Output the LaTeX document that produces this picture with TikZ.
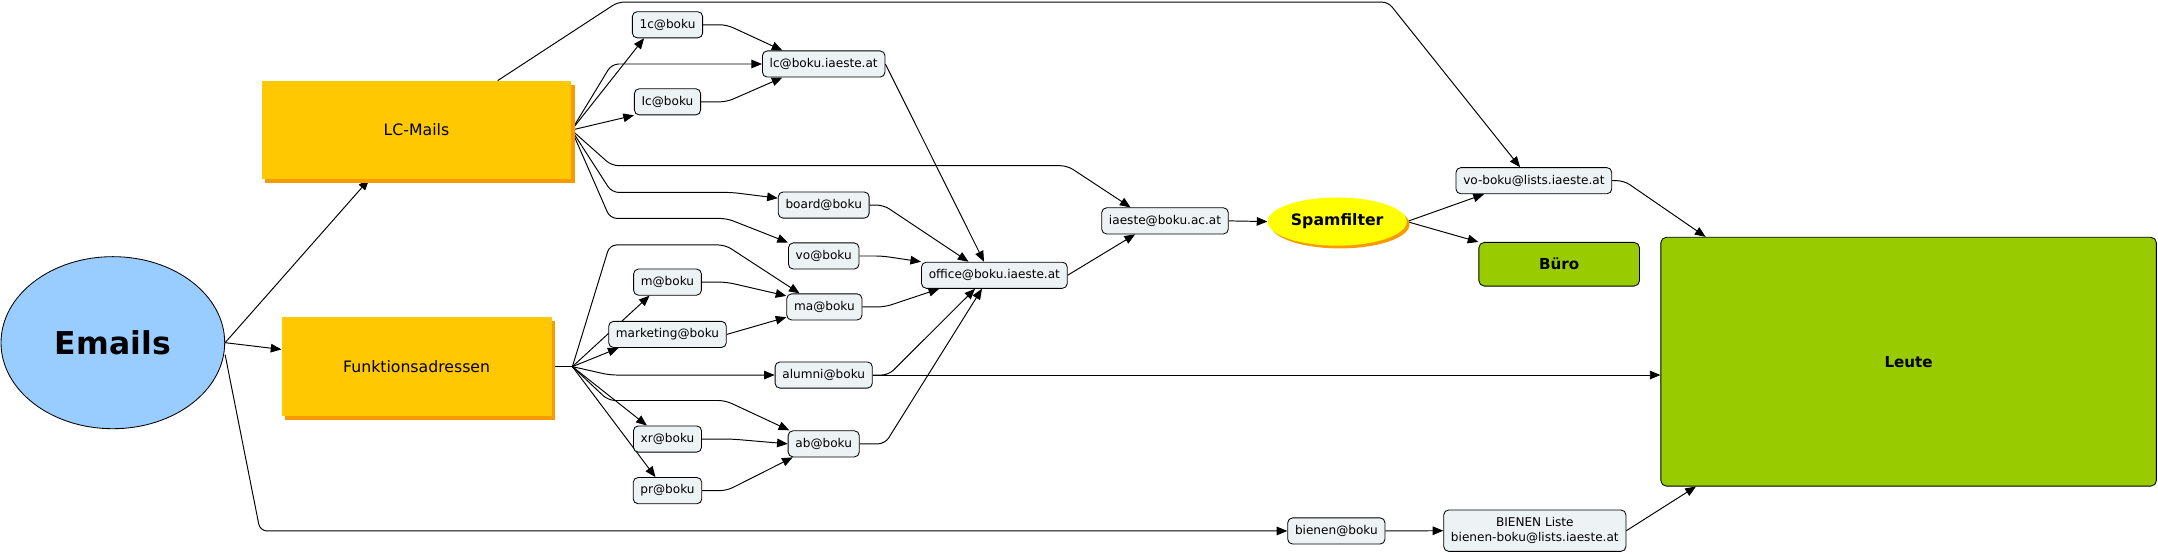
\documentclass[tikz,border=0pt]{standalone}
\usepackage{fontspec}
\setmainfont{DejaVu Sans}
\usepackage{tikz}
\usetikzlibrary{arrows.meta,positioning,shapes.geometric,shadows,backgrounds}
\definecolor{mailblue}{RGB}{153,204,255}
\definecolor{mailorange}{RGB}{255,200,0}
\definecolor{mailshade}{RGB}{247,155,0}
\definecolor{mailgreen}{RGB}{153,204,0}
\definecolor{mailgray}{RGB}{237,242,245}
\definecolor{spamyellow}{RGB}{255,255,0}

\begin{document}
\begin{tikzpicture}[x=0.04cm, y=-0.04cm,
    addr/.style={draw, rounded corners=0.14cm, fill=mailgray, line width=0.7pt,
                 minimum height=0.76cm, inner xsep=6pt, inner ysep=0pt,
                 font=\fontsize{10}{12}\selectfont},
    mailgroup/.style={rectangle, fill=mailorange, minimum height=2.86cm,
                 font=\fontsize{13}{15}\selectfont,
                 general shadow={fill=mailshade, shadow xshift=0.11cm, shadow yshift=-0.11cm}},
    inbox/.style={draw, rounded corners=0.16cm, fill=mailgreen, line width=0.7pt,
                 font=\fontsize{12.5}{15}\selectfont\bfseries},
    arrow/.style={-{Triangle[length=0.31cm, width=0.25cm]}, line width=0.8pt, rounded corners=0.2cm},
    link/.style={line width=0.8pt},
]
    \useasboundingbox (0,0) rectangle (1568,403);

    \node[ellipse, draw, fill=mailblue, line width=0.7pt, minimum width=6.5cm, minimum height=5cm,
          font=\fontsize{26}{30}\selectfont\bfseries] (emails) at (82,249) {Emails};
    \node[mailgroup, minimum width=9cm] (lcm) at (302.6,94.5) {LC-Mails};
    \node[mailgroup, minimum width=7.84cm] (fun) at (302.7,266.4) {Funktionsadressen};

    \node[addr] (c1) at (485,18) {1c@boku};
    \node[addr] (lcb) at (598.5,46.5) {lc@boku.iaeste.at};
    \node[addr] (ic) at (485,74) {Ic@boku};
    \node[addr] (board) at (598.5,149) {board@boku};
    \node[addr] (vo) at (598.5,186) {vo@boku};
    \node[addr] (office) at (722.5,200) {office@boku.iaeste.at};
    \node[addr] (m) at (485,205) {m@boku};
    \node[addr] (ma) at (599,223) {ma@boku};
    \node[addr] (mkt) at (485,243) {marketing@boku};
    \node[addr] (alumni) at (598.5,272.5) {alumni@boku};
    \node[addr] (xr) at (485,319) {xr@boku};
    \node[addr] (ab) at (598.5,322.5) {ab@boku};
    \node[addr] (pr) at (485,356.5) {pr@boku};
    \node[addr] (iaeste) at (846.5,160.5) {iaeste@boku.ac.at};
    \node[addr] (voboku) at (1114.5,131.3) {vo-boku@lists.iaeste.at};
    \node[addr] (bienen) at (971,385.8) {bienen@boku};
    \node[addr, align=center, minimum height=1.2cm, font=\fontsize{10}{12.4}\selectfont]
        (bienenl) at (1115.2,385.6) {BIENEN Liste\\bienen-boku@lists.iaeste.at};

    \node[ellipse, fill=spamyellow, minimum width=4.04cm, minimum height=1.4cm, inner sep=0pt,
          font=\fontsize{13}{15}\selectfont\bfseries,
          general shadow={fill=mailshade, shadow xshift=0.08cm, shadow yshift=-0.08cm}]
        (spam) at (971.6,161) {Spamfilter};
    \node[inbox, minimum width=4.67cm, minimum height=1.27cm] (buero) at (1132.9,192) {Büro};
    \node[inbox, minimum width=14.4cm, minimum height=7.23cm] (leute) at (1386.8,262.8) {Leute};

    \coordinate (fhub) at ([xshift=0.6cm]fun.east);

    \begin{scope}[on background layer]
    % from Emails
    \draw[arrow] (emails.east) -- ([xshift=-1.38cm]lcm.south);
    \draw[arrow] (emails.east) -- ([yshift=0.5cm]fun.west);
    \draw[arrow] ([yshift=-0.35cm]emails.east) -- (189,385.8) -- (bienen.west);

    % LC-Mails
    \draw[arrow, rounded corners=0.18cm] ([xshift=2.36cm]lcm.north) -- (449,1.5) -- (1008.6,1.5)
        -- ([xshift=-0.4cm]voboku.north);
    \draw[arrow] (lcm.east) -- ([xshift=-0.68cm]c1.south);
    \draw[arrow] (lcm.east) -- (444.5,46.5) -- (lcb.west);
    \draw[arrow] (lcm.east) -- (ic.south west);
    \draw[arrow] (lcm.east) -- (444.5,120.4) -- (775.5,120.4) -- ([xshift=-1cm]iaeste.north);
    \draw[arrow] (lcm.east) -- (444.5,139.8) -- (531.7,139.8) -- ([yshift=0.2cm]board.west);
    \draw[arrow] (lcm.east) -- (443.3,158.7) -- (528,158.7) -- (vo.north west);
    \draw[arrow] (c1.east) -- (528,18) -- ([xshift=-1.2cm]lcb.north);
    \draw[arrow] (ic.east) -- (528,74) -- ([xshift=-1.2cm]lcb.south);

    % into office
    \draw[arrow] (lcb.east) -- ([xshift=-0.3cm]office.north);
    \draw[arrow] (board.east) -- (642,149) -- ([xshift=-0.75cm]office.north);
    \draw[arrow] (vo.east) -- (641,186) -- (office.north west);
    \draw[arrow] (ma.east) -- (643,223) -- ([xshift=-1.6cm]office.south);
    \draw[arrow] (alumni.east) -- (645.6,272.5) -- ([xshift=-0.56cm]office.south);
    \draw[arrow] (ab.east) -- (643,322.5) -- ([xshift=-0.36cm]office.south);

    % Funktionsadressen
    \draw[link] (fun.east) -- (fhub);
    \draw[arrow] (fhub) -- (443,178) -- (527,178) -- ([xshift=-0.72cm]ma.north);
    \draw[arrow] (fhub) -- ([xshift=-0.52cm]m.south);
    \draw[arrow] (fhub) -- ([xshift=0.3cm]mkt.south west);
    \draw[arrow] (fhub) -- (443,272.5) -- (alumni.west);
    \draw[arrow] (fhub) -- (442,291) -- (527,291) -- ([xshift=-1cm]ab.north);
    \draw[arrow] (fhub) -- ([xshift=-0.6cm]xr.north);
    \draw[arrow] (fhub) -- ([xshift=-0.35cm]pr.north);
    \draw[arrow] (m.east) -- (528,205) -- ([yshift=0.32cm]ma.west);
    \draw[arrow] (mkt.east) -- ([yshift=-0.3cm]ma.west);
    \draw[arrow] (xr.east) -- (531.7,319) -- (ab.west);
    \draw[arrow] (pr.east) -- (528,356.5) -- ([xshift=-0.9cm]ab.south);

    % filter and lists
    \draw[arrow] (office.east) -- ([xshift=-0.87cm]iaeste.south);
    \draw[arrow] (iaeste.east) -- (spam.west);
    \draw[arrow] (spam.east) -- ([xshift=-1.45cm]voboku.south);
    \draw[arrow] (spam.east) -- (buero.north west);
    \draw[arrow] (voboku.east) -- (1180,131.3) -- ([xshift=-5.9cm]leute.north);
    \draw[arrow] (alumni.east) -- (alumni.east -| leute.west);
    \draw[arrow] (bienen.east) -- (bienenl.west);
    \draw[arrow] (bienenl.east) -- ([xshift=-6.18cm]leute.south);
    \end{scope}
\end{tikzpicture}
\end{document}
